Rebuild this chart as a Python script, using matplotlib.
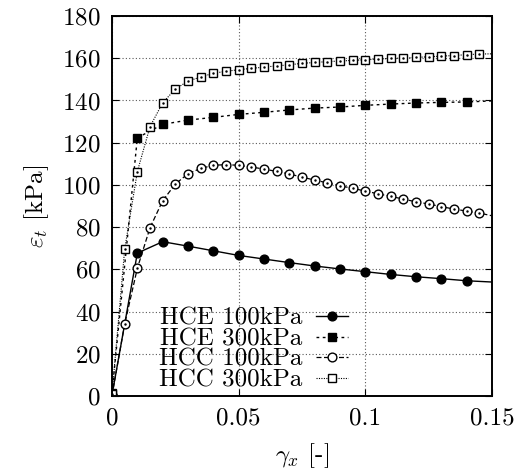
import numpy as np
from matplotlib import pyplot as plt

plt.rcParams['font.family'] = 'serif'
plt.rcParams['font.serif'] = ['cmr10', 'DejaVu Serif']
plt.rcParams['mathtext.fontset'] = 'cm'
plt.rcParams['axes.formatter.use_mathtext'] = True

# HCE 100kPa (filled circles)
hce100_x = [0, 0.01, 0.02, 0.03, 0.04, 0.05, 0.06, 0.07, 0.08, 0.09, 0.10, 0.11, 0.12, 0.13, 0.14]
hce100_y = [0.5, 67.7, 73.1, 71.0, 68.8, 66.6, 64.9, 63.2, 61.6, 60.2, 58.9, 57.6, 56.5, 55.6, 54.6]
hce100_end = 54.0

# HCE 300kPa (filled squares)
hce300_x = [0, 0.01, 0.02, 0.03, 0.04, 0.05, 0.06, 0.07, 0.08, 0.09, 0.10, 0.11, 0.12, 0.13, 0.14]
hce300_y = [1.5, 122.3, 128.7, 130.7, 132.0, 133.4, 134.4, 135.5, 136.4, 136.9, 137.7, 138.3, 138.8, 139.1, 139.3]
hce300_end = 139.8

# HCC 100kPa (open circles)
hcc100_x = [0, 0.005, 0.01, 0.015, 0.02, 0.025, 0.03, 0.035, 0.04, 0.045, 0.05, 0.055, 0.06, 0.065,
            0.07, 0.075, 0.08, 0.085, 0.09, 0.095, 0.10, 0.105, 0.11, 0.115, 0.12, 0.125, 0.13,
            0.135, 0.14, 0.145]
hcc100_y = [0.3, 34.1, 60.5, 79.7, 92.5, 100.4, 105.3, 107.8, 109.3, 109.6, 109.3, 108.5, 107.5, 106.4,
            105.2, 103.7, 102.3, 101.0, 99.6, 98.4, 97.1, 95.8, 94.6, 93.3, 92.0, 91.0, 89.7,
            88.6, 87.6, 86.7]
hcc100_end = 85.4

# HCC 300kPa (open squares)
hcc300_x = [0, 0.005, 0.01, 0.015, 0.02, 0.025, 0.03, 0.035, 0.04, 0.045, 0.05, 0.055, 0.06, 0.065,
            0.07, 0.075, 0.08, 0.085, 0.09, 0.095, 0.10, 0.105, 0.11, 0.115, 0.12, 0.125, 0.13,
            0.135, 0.14, 0.145]
hcc300_y = [0.8, 69.5, 106.3, 127.6, 138.9, 145.4, 149.2, 151.1, 152.9, 153.8, 154.6, 155.2, 155.8, 156.4,
            156.9, 157.6, 158.0, 158.4, 158.7, 159.0, 159.3, 159.6, 159.9, 160.1, 160.4, 160.7, 161.0,
            161.3, 161.7, 162.0]
hcc300_end = 162.1

x_end = 0.15

fig = plt.figure(figsize=(5.21, 4.72), dpi=100)
ax = fig.add_axes([0.215, 0.161, 0.729, 0.805])

series = [
    ('HCE 100kPa', hce100_x, hce100_y, hce100_end, 'o', 'black', '-', 1.0),
    ('HCE 300kPa', hce300_x, hce300_y, hce300_end, 's', 'black', (0, (2, 2.5)), 1.0),
    ('HCC 100kPa', hcc100_x, hcc100_y, hcc100_end, 'o', 'white', (0, (4, 2)), 0.9),
    ('HCC 300kPa', hcc300_x, hcc300_y, hcc300_end, 's', 'white', (0, (1, 1.2)), 0.8),
]

handles = []
for label, xs, ys, yend, mk, fc, ls, lw in series:
    ax.plot(list(xs) + [x_end], list(ys) + [yend], color='black', linestyle=ls, linewidth=lw)
    ax.plot(xs, ys, linestyle='none', marker=mk, markersize=6.3,
            markerfacecolor=fc, markeredgecolor='black', markeredgewidth=1.0)
    if fc == 'white':
        ax.plot(xs, ys, linestyle='none', marker='.', markersize=1.5, color='black')
    h, = ax.plot([], [], color='black', linestyle=ls, linewidth=lw, marker=mk, markersize=6.3,
                 markerfacecolor=fc, markeredgecolor='black', markeredgewidth=1.0)
    handles.append((h, label))

ax.set_xlim(0, 0.15)
ax.set_ylim(0, 180)
ax.set_xticks([0, 0.05, 0.1, 0.15])
ax.set_xticklabels(['0', '0.05', '0.1', '0.15'])
ax.set_yticks(np.arange(0, 181, 20))
ax.tick_params(direction='in', top=True, right=True, length=5, labelsize=18)
ax.tick_params(axis='y', pad=8)
ax.tick_params(axis='x', pad=8)
ax.grid(True, linestyle=(0, (1, 2)), color='0.35', linewidth=0.8)
for s in ax.spines.values():
    s.set_linewidth(1.4)

ax.set_xlabel(r'$\gamma_x$ [-]', fontsize=18, labelpad=9)
ax.set_ylabel(r'$\varepsilon_t$ [kPa]', fontsize=18, labelpad=8)

leg = ax.legend([h for h, _ in handles], [l for _, l in handles], loc='lower left',
                bbox_to_anchor=(0.098, -0.014), frameon=False, markerfirst=False,
                fontsize=18, labelspacing=-0.08, handlelength=1.25, handletextpad=0.55,
                borderaxespad=0)

plt.savefig('out.png', dpi=100)
